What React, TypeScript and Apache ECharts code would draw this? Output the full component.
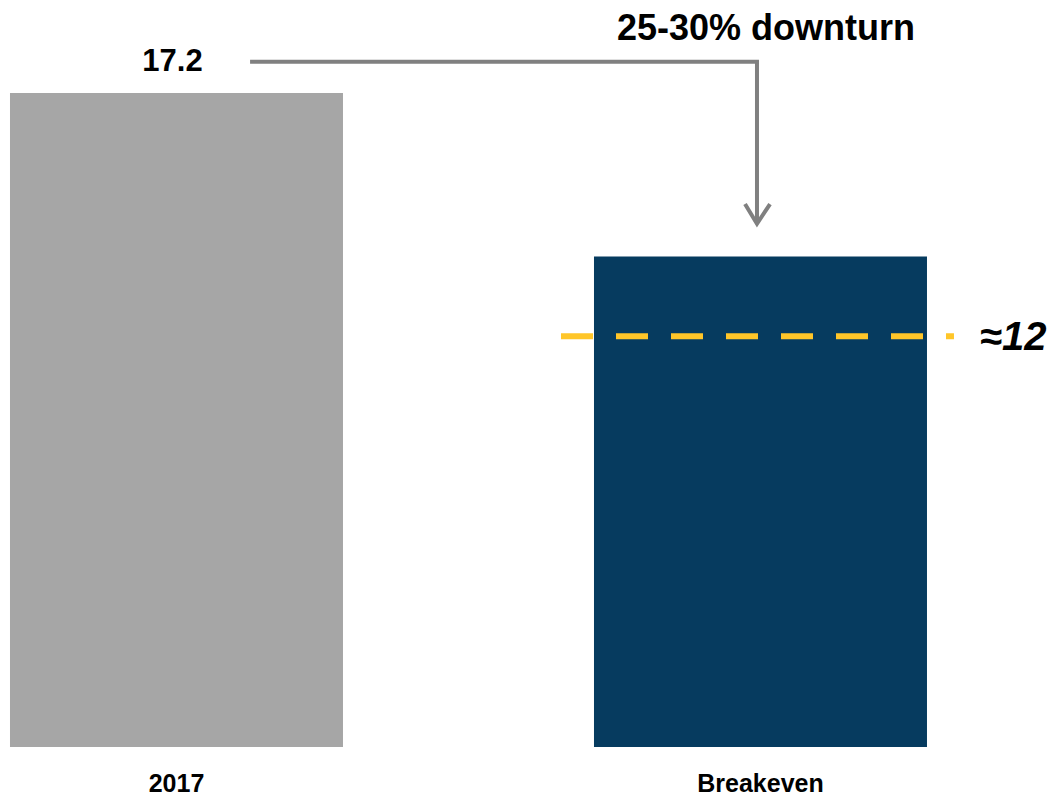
import React, { useEffect, useRef } from "react";
import * as echarts from "echarts";

const categories = ["2017", "Breakeven"];
const categoryPositions = [0, 1];
const barValues = [17.2, 12.9];
const barColors = ["#A6A6A6", "#063B5F"];
const barLabels = ["17.2", ""];

// annotation positions in data units (x: category index, y: value)
const connectorPoints = [
  [0.126, 18.02],
  [0.994, 18.02],
  [0.994, 13.8],
];
const arrowHeadPoints = [
  [0.9735, 14.28],
  [0.994, 13.76],
  [1.0163, 14.28],
];
const thresholdValue = 10.8;
const thresholdRange = [0.6584, 1.3313];
const thresholdLabel = "≈12";
const title = "25-30% downturn";

export default function App() {
  const ref = useRef<HTMLDivElement>(null);
  useEffect(() => {
    if (!ref.current) return;
    const chart = echarts.init(ref.current, undefined, { renderer: "svg" });
    const sans = "'Liberation Sans', Arial, sans-serif";
    chart.setOption({
      animation: false,
      backgroundColor: "#ffffff",
      title: {
        text: title,
        left: 612,
        top: 4,
        textStyle: { fontSize: 36, fontWeight: "bold", color: "#000", fontFamily: sans },
      },
      grid: { left: 0, right: 0, top: 93, bottom: 49, containLabel: false },
      xAxis: [
        {
          type: "value",
          min: -0.3022,
          max: 1.5043,
          splitLine: { show: false },
          axisLine: { show: false },
          axisTick: { show: false },
          axisLabel: {
            customValues: categoryPositions,
            formatter: (v: number) => categories[Math.round(v)] ?? "",
            margin: 23,
            fontSize: 25,
            fontWeight: "bold",
            color: "#000",
            fontFamily: sans,
          },
        },
      ],
      yAxis: [{ type: "value", min: 0, max: 17.2, show: false }],
      series: [
        {
          type: "bar",
          data: barValues.map((v, i) => ({
            value: [categoryPositions[i], v],
            itemStyle: { color: barColors[i] },
            label: {
              show: barLabels[i] !== "",
              formatter: barLabels[i],
            },
          })),
          barWidth: 333,
          clip: false,
          label: {
            position: "top",
            distance: 17,
            offset: [-4, 0],
            fontSize: 31,
            fontWeight: "bold",
            color: "#000",
            fontFamily: sans,
          },
        },
        {
          type: "line",
          data: connectorPoints,
          symbol: "none",
          clip: false,
          lineStyle: { color: "#808080", width: 4, join: "miter" },
          silent: true,
        },
        {
          type: "line",
          data: arrowHeadPoints,
          symbol: "none",
          clip: false,
          lineStyle: { color: "#808080", width: 4, join: "miter" },
          silent: true,
        },
        {
          type: "line",
          data: thresholdRange.map((x) => [x, thresholdValue]),
          symbol: "none",
          clip: false,
          lineStyle: { color: "#FFC629", width: 6, type: [32, 23] },
          endLabel: {
            show: true,
            formatter: thresholdLabel,
            distance: 26,
            fontSize: 40,
            fontWeight: "bold",
            fontStyle: "italic",
            color: "#000",
            fontFamily: sans,
          },
          silent: true,
        },
      ],
    });
    return () => chart.dispose();
  }, []);
  return (
    <div
      ref={ref}
      style={{ position: "absolute", left: 0, top: 0, width: 1055, height: 796 }}
    />
  );
}
